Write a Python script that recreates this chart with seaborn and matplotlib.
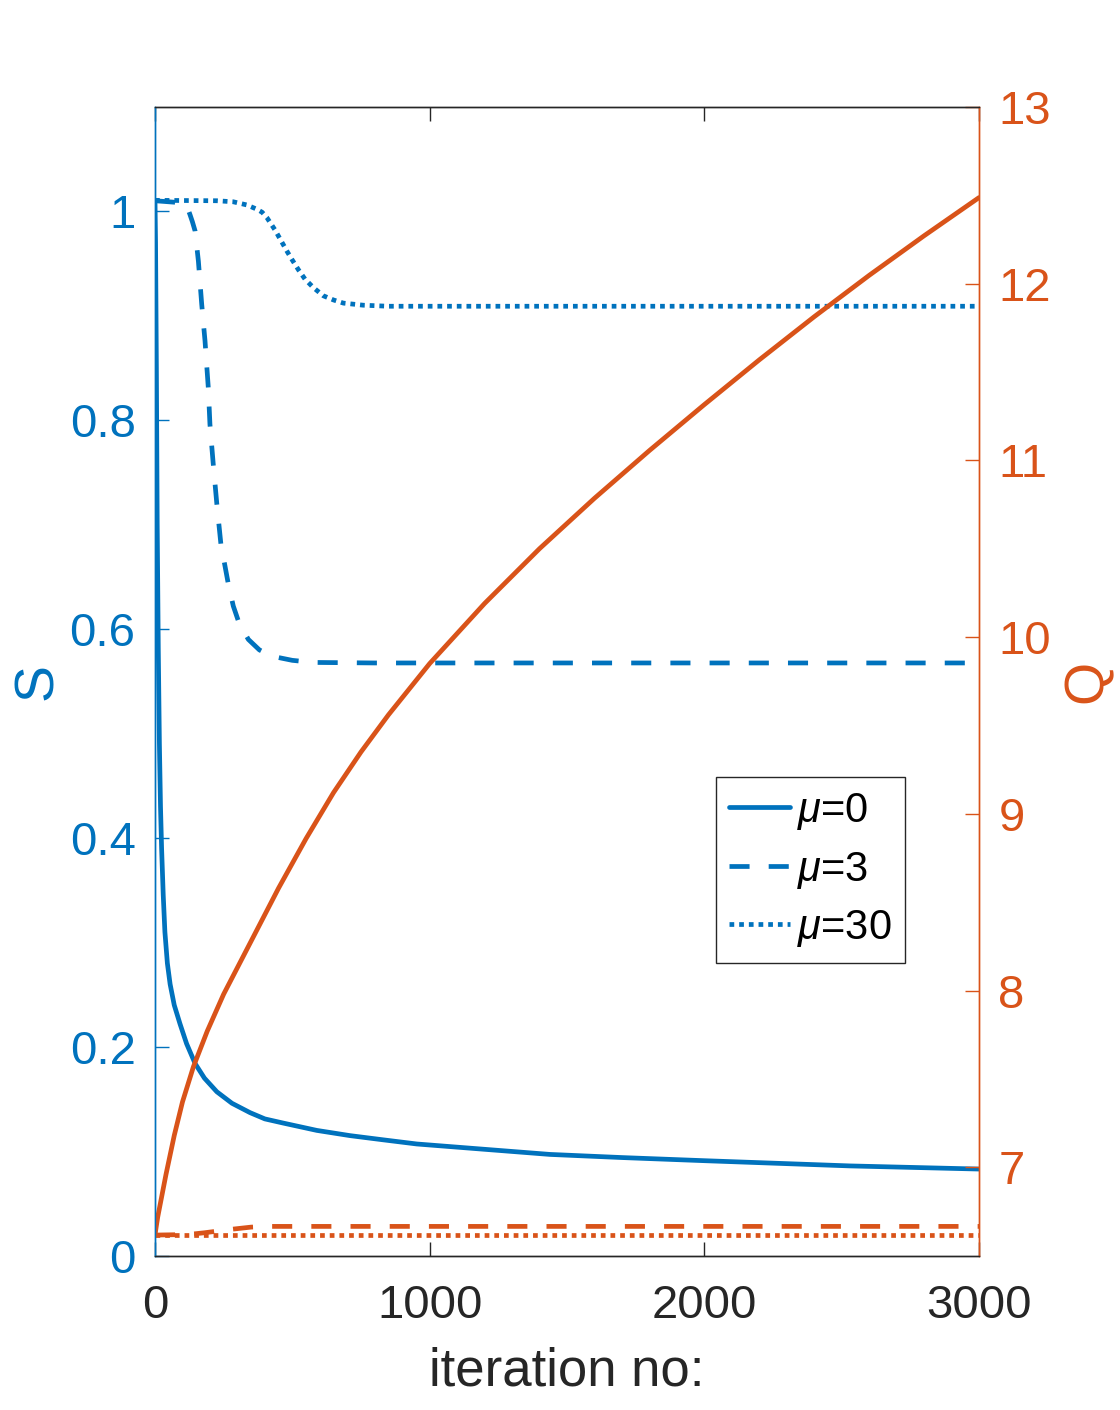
import numpy as np
import pandas as pd
import matplotlib
matplotlib.use("Agg")
import matplotlib.pyplot as plt
import seaborn as sns

# ==================================================
# Values
# ==================================================
# S, mu = 0 (solid blue)
s_mu0_x = [0, 2, 5, 8, 12, 16, 20, 24, 30, 36, 45, 55, 70, 91, 115, 146,
           180, 225, 280, 346, 400, 467, 589, 710, 830, 953, 1195, 1438,
           1700, 2000, 2530, 3000]
s_mu0_y = [1.01, 0.97, 0.85, 0.70, 0.58, 0.49, 0.43, 0.39, 0.345, 0.31,
           0.28, 0.26, 0.24, 0.222, 0.203, 0.184, 0.170, 0.157, 0.146,
           0.137, 0.131, 0.127, 0.120, 0.115, 0.111, 0.107, 0.102, 0.097,
           0.094, 0.091, 0.086, 0.083]

# S, mu = 3 (dashed blue)
s_mu3_x = [0, 100, 110, 120, 127, 136, 146, 158, 170, 182, 194, 200, 212,
           225, 240, 255, 267, 285, 307, 340, 380, 425, 500, 576, 800, 3000]
s_mu3_y = [1.01, 1.008, 1.006, 1.002, 0.997, 0.99, 0.981, 0.952, 0.911,
           0.876, 0.831, 0.796, 0.758, 0.720, 0.681, 0.660, 0.643, 0.622,
           0.605, 0.590, 0.580, 0.574, 0.570, 0.568, 0.5675, 0.5675]

# S, mu = 30 (dotted blue)
s_mu30_x = [0, 225, 285, 334, 370, 390, 407, 422, 437, 452, 467, 482, 498,
            522, 546, 576, 613, 650, 686, 758, 850, 1000, 3000]
s_mu30_y = [1.0104, 1.010, 1.009, 1.006, 1.002, 0.999, 0.994, 0.988, 0.982,
            0.975, 0.968, 0.961, 0.954, 0.944, 0.935, 0.927, 0.919, 0.915,
            0.912, 0.910, 0.909, 0.909, 0.909]

# Q, mu = 0 (solid orange)
q_mu0_x = [0, 4, 10, 20, 40, 70, 100, 140, 190, 250, 350, 450, 550, 650,
           750, 850, 1000, 1200, 1400, 1600, 1800, 2000, 2200, 2400, 2600,
           2800, 3000]
q_mu0_y = [6.617, 6.66, 6.72, 6.80, 6.96, 7.18, 7.37, 7.57, 7.77, 7.98,
           8.28, 8.58, 8.86, 9.12, 9.35, 9.56, 9.85, 10.19, 10.50, 10.785,
           11.055, 11.315, 11.568, 11.812, 12.046, 12.27, 12.486]

# Q, mu = 3 (dashed orange)
q_mu3_x = [0, 120, 180, 230, 280, 350, 420, 3000]
q_mu3_y = [6.617, 6.62, 6.63, 6.64, 6.65, 6.662, 6.666, 6.666]

# Q, mu = 30 (dotted orange)
q_mu30_x = [0, 3000]
q_mu30_y = [6.617, 6.617]

legend_labels = [r"$\mu$=0", r"$\mu$=3", r"$\mu$=30"]
x_ticks = [0, 1000, 2000, 3000]
s_ticks = [0, 0.2, 0.4, 0.6, 0.8, 1]
s_tick_labels = ["0", "0.2", "0.4", "0.6", "0.8", "1"]
q_ticks = [7, 8, 9, 10, 11, 12, 13]

BLUE = "#0072BD"
ORANGE = "#D95319"
DARK = "#262626"

sns.set_theme(style="white")
plt.rcParams["font.family"] = ["Liberation Sans", "DejaVu Sans"]
plt.rcParams["mathtext.fontset"] = "custom"
plt.rcParams["mathtext.it"] = "Liberation Sans:italic"
plt.rcParams["mathtext.rm"] = "Liberation Sans"

fig = plt.figure(figsize=(11.2, 14.1), dpi=100)
ax = fig.add_axes([0.1384, 0.1094, 0.7357, 0.8149])
ax2 = ax.twinx()

LW = 3.4
DASH = (0, (4.25, 4.05))
DOT = (0, (1.0, 1.05))

# ==================================================
# Left axis: S
# ==================================================
s_lines = []
for xs, ys, ls in [(s_mu0_x, s_mu0_y, "-"),
                   (s_mu3_x, s_mu3_y, DASH),
                   (s_mu30_x, s_mu30_y, DOT)]:
    sns.lineplot(x=xs, y=ys, ax=ax, color=BLUE, linewidth=LW, linestyle=ls)
    s_lines.append(ax.lines[-1])

# ==================================================
# Right axis: Q
# ==================================================
for xs, ys, ls in [(q_mu0_x, q_mu0_y, "-"),
                   (q_mu3_x, q_mu3_y, DASH),
                   (q_mu30_x, q_mu30_y, DOT)]:
    sns.lineplot(x=xs, y=ys, ax=ax2, color=ORANGE, linewidth=LW, linestyle=ls)

ax.set_xlim(0, 3000)
ax.set_ylim(0, 1.1)
ax2.set_ylim(6.5, 13)

ax.set_xticks(x_ticks)
ax.set_yticks(s_ticks)
ax.set_yticklabels(s_tick_labels)
ax2.set_yticks(q_ticks)

ax.tick_params(axis="x", direction="in", top=True, bottom=True, length=10,
               width=1, colors=DARK, labelsize=34, pad=20)
ax.tick_params(axis="y", direction="in", left=True, right=False, length=10,
               width=1, colors=BLUE, labelsize=34, pad=14)
ax2.tick_params(axis="y", direction="in", right=True, left=False, length=10,
                width=1, colors=ORANGE, labelsize=34, pad=14)

for a in (ax, ax2):
    a.spines["top"].set_color(DARK)
    a.spines["bottom"].set_color(DARK)
    a.spines["left"].set_color(BLUE)
    a.spines["right"].set_color(ORANGE)
    for sp in a.spines.values():
        sp.set_linewidth(1)
        sp.set_visible(True)

ax.set_xlabel("iteration no:", fontsize=38, color=DARK, labelpad=14)
ax.set_ylabel("S", fontsize=40, color=BLUE, labelpad=4)
ax2.set_ylabel("Q", fontsize=40, color=ORANGE, labelpad=8)

leg = ax2.legend(s_lines, legend_labels, loc="upper left",
                 bbox_to_anchor=(0.6805, 0.4164), fontsize=30,
                 frameon=True, fancybox=False, framealpha=1,
                 edgecolor=DARK, handlelength=1.45, handletextpad=0.17,
                 labelspacing=0.42, borderpad=0.33, borderaxespad=0)
leg.get_frame().set_linewidth(1)
for t in leg.get_texts():
    t.set_color("black")

fig.savefig("out.png", dpi=100, facecolor="white")
